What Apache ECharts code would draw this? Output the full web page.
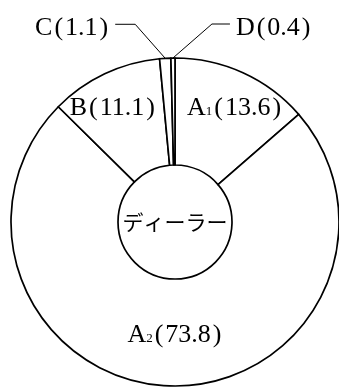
<!DOCTYPE html>
<html>
<head>
<meta charset="utf-8">
<script src="https://cdn.jsdelivr.net/npm/echarts@6/dist/echarts.min.js"></script>
<style>
  html, body { margin: 0; padding: 0; background: #fff; }
  #chart { width: 339px; height: 388px; }
</style>
</head>
<body>
<div id="chart"></div>
<script>
// clockwise from 12 o'clock
var categories = ['A1', 'A2', 'B', 'C', 'D']
var values = [13.6, 73.8, 11.1, 1.1, 0.4]
var centerLabel = 'ディーラー'
// labels drawn outside with a leader line
var outsideNames = ['C', 'D']

var SERIF = '"Liberation Serif", "Times New Roman", serif'

function labelText(name, value) {
  var letter = name.charAt(0)
  var sub = name.slice(1)
  var s = '{t|' + letter + '}'
  if (sub) s += '{s|' + sub + '}'
  return s + '{p|(}{t|' + value.toFixed(1) + '}{p|)}'
}

var chart = echarts.init(document.getElementById('chart'))

var option = {
  animation: false,
  backgroundColor: '#fff',
  series: [
    {
      type: 'pie',
      center: [175, 222],
      radius: [57, 164],
      startAngle: 90,
      clockwise: true,
      avoidLabelOverlap: false,
      silent: true,
      itemStyle: {
        color: '#fff',
        borderColor: '#000',
        borderWidth: 1.7
      },
      label: {
        color: '#000',
        formatter: function (p) {
          return labelText(p.name, p.value)
        },
        rich: {
          t: { fontFamily: SERIF, fontSize: 26, color: '#000', lineHeight: 28, verticalAlign: 'bottom' },
          p: { fontFamily: SERIF, fontSize: 26, color: '#000', lineHeight: 28, padding: [0, 2], verticalAlign: 'bottom' },
          s: { fontFamily: SERIF, fontSize: 13, color: '#000', lineHeight: 13, padding: [0, 0, 3, 0], verticalAlign: 'bottom' }
        }
      },
      labelLine: {
        lineStyle: { color: '#000', width: 1 }
      },
      labelLayout: function (p) {
        var name = categories[p.dataIndex]
        if (name === 'A1') return { dx: 13, dy: -12 }
        if (name === 'B') return { dx: -13, dy: -12 }
        if (name === 'A2') return { dx: 4, dy: -1 }
        if (outsideNames.indexOf(name) >= 0 && p.labelLinePoints) {
          var a = p.labelLinePoints[0]
          var left = name === 'C'
          var ex = a[0] + (left ? -30 : 39)
          var ey = a[1] - 34
          var fx = ex + (left ? -20 : 18)
          return {
            x: fx + (left ? -5 : 6),
            y: ey + 3,
            align: left ? 'right' : 'left',
            verticalAlign: 'middle',
            labelLinePoints: [a, [ex, ey], [fx, ey]]
          }
        }
        return {}
      },
      data: categories.map(function (name, i) {
        var outside = outsideNames.indexOf(name) >= 0
        return {
          name: name,
          value: values[i],
          label: { position: outside ? 'outside' : 'inside' },
          labelLine: { show: outside, length: 30, length2: 20 }
        }
      })
    },
    {
      type: 'pie',
      center: [175, 222],
      radius: [0, 56],
      silent: true,
      itemStyle: { color: 'rgba(0,0,0,0)' },
      label: {
        position: 'center',
        fontFamily: '"Noto Sans CJK JP", sans-serif',
        fontSize: 21,
        color: '#000'
      },
      labelLine: { show: false },
      data: [{ name: centerLabel, value: 1 }]
    }
  ]
}

chart.setOption(option)
</script>
</body>
</html>
